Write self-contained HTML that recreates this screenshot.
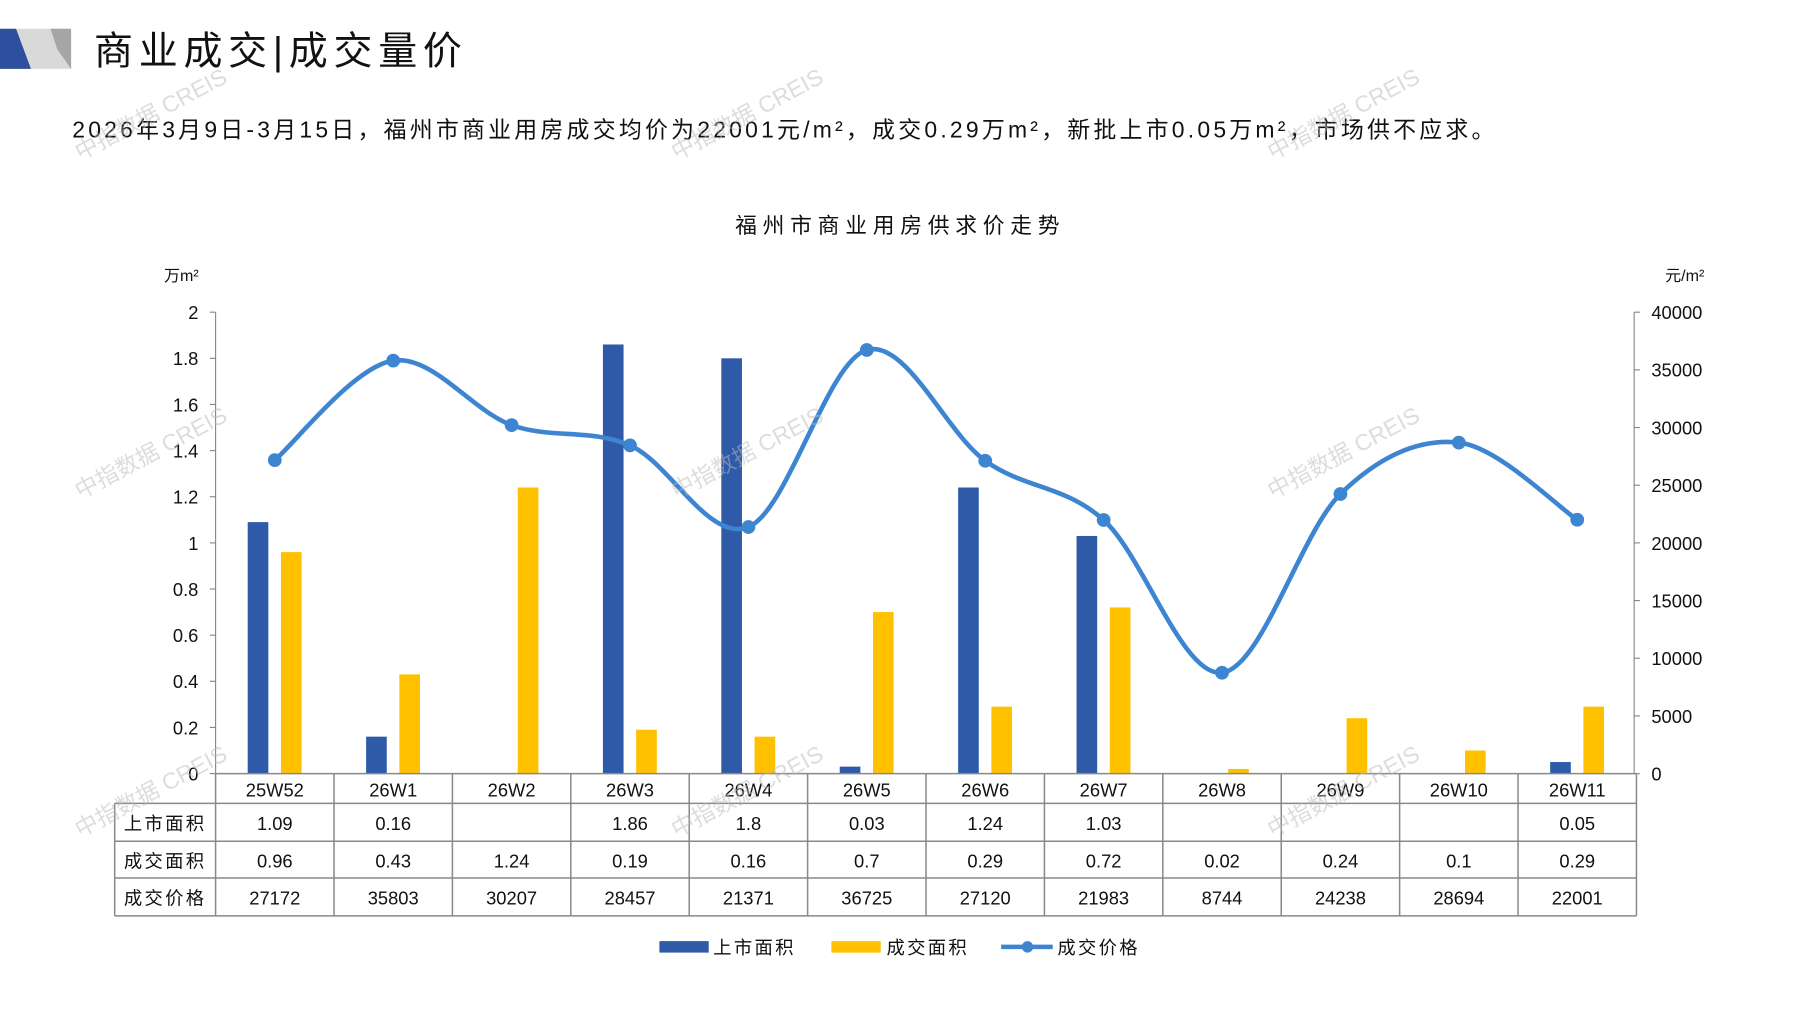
<!DOCTYPE html>
<html><head><meta charset="utf-8"><style>
html,body{margin:0;padding:0;background:#fff;}
svg{display:block;}
text{font-family:"Liberation Sans","Noto Sans CJK SC",sans-serif;fill:#111;}
</style></head><body>
<svg id="s" width="1797" height="1010" viewBox="0 0 1567 880" preserveAspectRatio="none" xmlns="http://www.w3.org/2000/svg">
<rect width="1567" height="880" fill="#fff"/>
<polygon points="0,25 62,25 62,60 0,60" fill="#d9d9d9"/>
<polygon points="0,25 14,25 27,60 0,60" fill="#2e4f9e"/>
<polygon points="44,25 62,25 62,60 50,43" fill="#a6a6a6"/>
<text x="82" y="56" font-size="34" letter-spacing="5">商业成交|成交量价</text>
<text x="63" y="120" font-size="20" letter-spacing="2.8">2026年3月9日-3月15日，福州市商业用房成交均价为22001元/m²，成交0.29万m²，新批上市0.05万m²，市场供不应求。</text>
<text x="785" y="203" font-size="19" text-anchor="middle" letter-spacing="5">福州市商业用房供求价走势</text>
<text x="143" y="245" font-size="14">万m²</text>
<text x="1452" y="245" font-size="14">元/m²</text>
<g id="g"></g>
<rect x="575" y="820" width="43" height="10" fill="#2e5aa8"/>
<text x="622" y="831" font-size="16" letter-spacing="2">上市面积</text>
<rect x="725" y="820" width="43" height="10" fill="#ffc000"/>
<text x="773" y="831" font-size="16" letter-spacing="2">成交面积</text>
<line x1="873" y1="825" x2="918" y2="825" stroke="#3d85d0" stroke-width="4"/>
<circle cx="896" cy="825" r="5" fill="#3d85d0"/>
<text x="922" y="831" font-size="16" letter-spacing="2">成交价格</text>
</svg>
<script>
var g=document.getElementById('g'),h='';
var cats=['25W52','26W1','26W2','26W3','26W4','26W5','26W6','26W7','26W8','26W9','26W10','26W11'];
var sup=[1.09,0.16,null,1.86,1.8,0.03,1.24,1.03,null,null,null,0.05];
var sal=[0.96,0.43,1.24,0.19,0.16,0.7,0.29,0.72,0.02,0.24,0.1,0.29];
var pr=[27172,35803,30207,28457,21371,36725,27120,21983,8744,24238,28694,22001];
var X0=188,W=103.25,Y0=674;
h+='<line x1="188" y1="272" x2="188" y2="674" stroke="#888"/>';
h+='<line x1="1425" y1="272" x2="1425" y2="674" stroke="#888"/>';
for(var i=0;i<=10;i++){var y=Y0-i*40.2;var v=(i*0.2).toFixed(1).replace(/\.0$/,'');
h+='<line x1="183" y1="'+y+'" x2="188" y2="'+y+'" stroke="#888"/>';
h+='<text x="173" y="'+(y+6)+'" font-size="16" text-anchor="end">'+v+'</text>';}
for(var i=0;i<=8;i++){var y=Y0-i*50.25;
h+='<line x1="1425" y1="'+y+'" x2="1430" y2="'+y+'" stroke="#888"/>';
h+='<text x="1440" y="'+(y+6)+'" font-size="16">'+(i*5000)+'</text>';}
for(var i=0;i<12;i++){var cx=X0+W*i;
if(sup[i]!==null){var bh=sup[i]*201;h+='<rect x="'+(cx+28)+'" y="'+(Y0-bh)+'" width="18" height="'+bh+'" fill="#2e5aa8"/>';}
var bh=sal[i]*201;h+='<rect x="'+(cx+57)+'" y="'+(Y0-bh)+'" width="18" height="'+bh+'" fill="#ffc000"/>';}
var P=pr.map(function(v,i){return [X0+W*(i+0.5),Y0-v*0.01005];});
var d='M'+P[0][0]+','+P[0][1];
for(var i=0;i<11;i++){var a=P[i-1]||P[i],b=P[i],c=P[i+1],e=P[i+2]||P[i+1];
d+=' C'+(b[0]+(c[0]-a[0])/6)+','+(b[1]+(c[1]-a[1])/6)+' '+(c[0]-(e[0]-b[0])/6)+','+(c[1]-(e[1]-b[1])/6)+' '+c[0]+','+c[1];}
h+='<path d="'+d+'" fill="none" stroke="#3d85d0" stroke-width="4"/>';
P.forEach(function(p){h+='<circle cx="'+p[0]+'" cy="'+p[1]+'" r="6" fill="#3d85d0"/>';});
var rows=[674,700,733,765,798];
h+='<g stroke="#888" stroke-width="1.3" fill="none">';
h+='<line x1="188" y1="674" x2="1427" y2="674"/>';
for(var r=1;r<5;r++)h+='<line x1="100" y1="'+rows[r]+'" x2="1427" y2="'+rows[r]+'"/>';
h+='<line x1="100" y1="700" x2="100" y2="798"/>';
for(var i=0;i<=12;i++)h+='<line x1="'+(X0+W*i)+'" y1="674" x2="'+(X0+W*i)+'" y2="798"/>';
h+='</g>';
var lab=['上市面积','成交面积','成交价格'];
for(var r=0;r<3;r++)h+='<text x="144" y="'+(rows[r+1]+23)+'" font-size="16" text-anchor="middle" letter-spacing="2">'+lab[r]+'</text>';
for(var i=0;i<12;i++){var cx=X0+W*(i+0.5);
h+='<text x="'+cx+'" y="694" font-size="16" text-anchor="middle">'+cats[i]+'</text>';
if(sup[i]!==null)h+='<text x="'+cx+'" y="723" font-size="16" text-anchor="middle">'+sup[i]+'</text>';
h+='<text x="'+cx+'" y="756" font-size="16" text-anchor="middle">'+sal[i]+'</text>';
h+='<text x="'+cx+'" y="788" font-size="16" text-anchor="middle">'+pr[i]+'</text>';}
[[70,140],[590,140],[1110,140],[70,435],[590,435],[1110,435],[70,730],[590,730],[1110,730]].forEach(function(p){
h+='<text x="'+p[0]+'" y="'+p[1]+'" font-size="20" transform="rotate(-28 '+p[0]+' '+p[1]+')" style="fill:#bbb;opacity:0.5">中指数据 CREIS</text>';});
g.innerHTML=h;
</script>
</body></html>
